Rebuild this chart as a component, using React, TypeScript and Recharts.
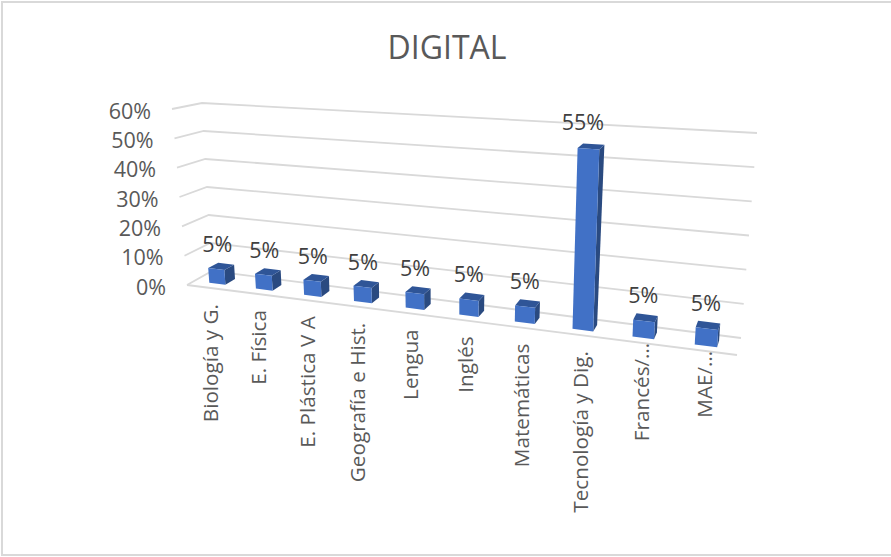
import React from "react";
import { BarChart, Bar, XAxis, YAxis, CartesianGrid, LabelList } from "recharts";

const categories = ["Biología y G.", "E. Física", "E. Plástica V A", "Geografía e Hist.", "Lengua", "Inglés", "Matemáticas", "Tecnología y Dig.", "Francés/…", "MAE/…"];
const shares = [5, 5, 5, 5, 5, 5, 5, 55, 5, 5];
const valueTicks = [0, 10, 20, 30, 40, 50, 60];
const chartTitle = "DIGITAL";

const data = categories.map((name, i) => ({ name, value: shares[i] }));

const W = 891, H = 557;
// Flat plot rectangle used by Recharts' scales; everything is then re-projected to the tilted 3D box.
const PL = 100, PT = 100, PW = 600, PH = 300;
const FONT = "'Open Sans', 'Noto Sans', sans-serif";
const VMAX = 60;
const K = 1.2;

type Pt = [number, number];
const lerp = (a: number, b: number, u: number) => a + (b - a) * u;
const mix = (a: Pt, b: Pt, u: number): Pt => [lerp(a[0], b[0], u), lerp(a[1], b[1], u)];
// box corners: F front / B back, L left / R right, 0 floor / T top
const FL0: Pt = [187, 285], FLT: Pt = [172, 109];
const BL0: Pt = [212, 271], BLT: Pt = [202, 103];
const FR0: Pt = [737, 355], FRT: Pt = [750, 146];
const BR0: Pt = [741, 338], BRT: Pt = [757, 133];

const warp = (t: number) => t / (t + K * (1 - t));
const project = (t: number, d: number, v: number): Pt => {
  const u = v / VMAX;
  const left = mix(mix(FL0, BL0, d), mix(FLT, BLT, d), u);
  const right = mix(mix(FR0, BR0, d), mix(FRT, BRT, d), u);
  return mix(left, right, warp(t));
};
const toT = (x: number) => (x - PL) / PW;
const toV = (y: number) => ((PT + PH - y) / PH) * VMAX;
const poly = (pts: Pt[]) => pts.map((p) => p[0].toFixed(1) + "," + p[1].toFixed(1)).join(" ");

const D1 = 0.3, D2 = 0.7;
const GRID = "#d9d9d9";

function GridLine(props: any) {
  const v = toV(props.y1);
  const pts = [project(0, 0, v), project(0, 1, v), project(1, 1, v)];
  return (
    <g key={props.key}>
      <polyline points={poly(pts)} fill="none" stroke={GRID} strokeWidth={1.8} />
      {Math.abs(v) < 0.01 ? (
        <polyline points={poly([project(0, 0, 0), project(1, 0, 0)])} fill="none" stroke={GRID} strokeWidth={1.8} />
      ) : null}
    </g>
  );
}

function Box3D(props: any) {
  const { x, y, width, height } = props;
  const t1 = toT(x), t2 = toT(x + width);
  const v = toV(y), v0 = toV(y + height);
  const a = project(t1, D1, v0), b = project(t2, D1, v0), c = project(t2, D1, v), e = project(t1, D1, v);
  const f = project(t2, D2, v0), g = project(t2, D2, v), h = project(t1, D2, v);
  return (
    <g>
      <polygon points={poly([b, f, g, c])} fill="#2a4a80" />
      <polygon points={poly([e, c, g, h])} fill="#2f5597" />
      <polygon points={poly([a, b, c, e])} fill="#4171c6" />
    </g>
  );
}

function ValueLabel(props: any) {
  const { x, y, width, value } = props;
  const t = toT(x + width / 2);
  const v = toV(y);
  const top = project(t, D2, v);
  const base = project(t, D1, 0);
  return (
    <text x={base[0]} y={top[1] - 19.5 - v * 0.06} textAnchor="middle" dominantBaseline="central" fontFamily={FONT} fontSize={21.5} fill="#404040">
      {value}%
    </text>
  );
}

function ValueTick(props: any) {
  const v = props.payload.value;
  const p = project(0, 0, v);
  return (
    <text x={p[0] - 21} y={p[1] + 1} textAnchor="end" dominantBaseline="central" fontFamily={FONT} fontSize={21.5} fill="#595959">
      {v}%
    </text>
  );
}

function CategoryTick(props: any) {
  const label: string = props.payload.value;
  const p = project(toT(props.x), 0, 0);
  const gap = label.endsWith("…") ? 0 : 16;
  const ty = p[1] + gap;
  return (
    <text
      x={p[0]}
      y={ty}
      transform={"rotate(-90 " + p[0] + " " + ty + ")"}
      textAnchor="end"
      dominantBaseline="central"
      fontFamily={FONT}
      fontSize={20.7}
      fill="#595959"
    >
      {label}
    </text>
  );
}

export default function App() {
  return (
    <div style={{ position: "absolute", left: 0, top: 0, width: W, height: H, background: "#fff", overflow: "hidden" }}>
      <div style={{ position: "absolute", left: 1, top: 1, width: W - 1, height: H - 2, borderLeft: "2px solid #d9d9d9", borderTop: "2px solid #d9d9d9", borderBottom: "2px solid #d9d9d9", boxSizing: "border-box" }} />
      <BarChart
        width={W}
        height={H}
        data={data}
        margin={{ left: PL - 60, top: PT, right: W - PL - PW, bottom: H - PT - PH - 60 }}
        barCategoryGap="32.5%"
      >
        <text x={447} y={46} textAnchor="middle" dominantBaseline="central" fontFamily={FONT} fontSize={32} fill="#595959">
          {chartTitle}
        </text>
        <CartesianGrid horizontal={GridLine as any} vertical={false} />
        <XAxis dataKey="name" interval={0} height={60} axisLine={false} tickLine={false} tick={CategoryTick as any} />
        <YAxis width={60} domain={[0, VMAX]} ticks={valueTicks} axisLine={false} tickLine={false} tick={ValueTick as any} />
        <Bar dataKey="value" shape={Box3D as any} isAnimationActive={false}>
          <LabelList dataKey="value" content={ValueLabel as any} />
        </Bar>
      </BarChart>
    </div>
  );
}
